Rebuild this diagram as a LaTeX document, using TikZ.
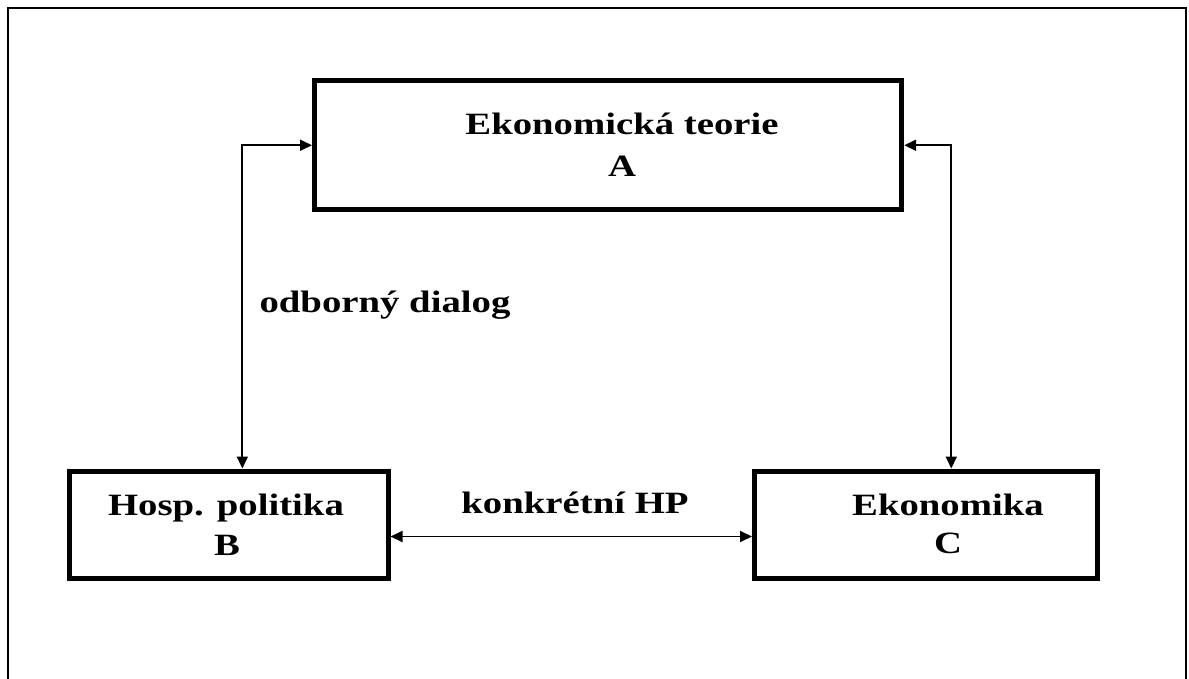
\documentclass[tikz,border=0pt]{standalone}
\usepackage{fontspec}
\newfontfamily\lblfont{Liberation Serif}[FakeStretch=1.25]
\usetikzlibrary{arrows.meta}
\begin{document}
\begin{tikzpicture}[x=1pt,y=-1pt,
  box/.style={draw, line width=5pt, inner sep=0pt, fill=white},
  conn/.style={line width=1.8pt, {Triangle[length=12pt,width=11pt]}-{Triangle[length=12pt,width=11pt]}},
  lbl/.style={font=\lblfont\bfseries\fontsize{31}{40}\selectfont, inner sep=0pt, anchor=base},
  frame/.style={line width=1.6pt}]
  \useasboundingbox (0,0) rectangle (1189,679);
  % outer frame, open at the bottom
  \draw[frame] (8,679) -- (8,8) -- (1186,8) -- (1186,679);

  % the three boxes
  \node[box, minimum width=587.2pt, minimum height=128.5pt] (A) at (608.1,145.25) {};
  \node[box, minimum width=318.3pt, minimum height=107pt] (B) at (228.85,524.5) {};
  \node[box, minimum width=342.5pt, minimum height=107pt] (C) at (925.75,524.5) {};

  % box texts
  \node[lbl] (A1) at (622,135) {Ekonomická teorie};
  \node[lbl] (A2) at (622,177) {A};
  \node[lbl] (B1) at (226,515) {Hosp. politika};
  \node[lbl] (B2) at (227,555) {B};
  \node[lbl] (C1) at (948,515) {Ekonomika};
  \node[lbl] (C2) at (948,553) {C};

  % connector labels
  \node[lbl] (lab1) at (385,312) {odborný dialog};
  \node[lbl] (lab2) at (575,513) {konkrétní HP};

  % connectors
  \draw[conn] (A.west) -| ([xshift=13.5pt]B.north);
  \draw[conn] (A.east) -| ([xshift=25.5pt]C.north);
  \draw[conn] ([yshift=-12pt]B.east) -- ([yshift=-12pt]C.west);
\end{tikzpicture}
\end{document}
